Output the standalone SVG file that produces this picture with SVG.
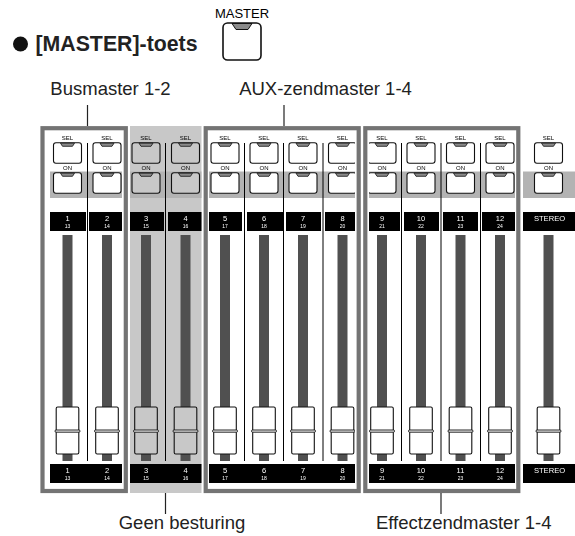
<svg xmlns="http://www.w3.org/2000/svg" width="575" height="536" viewBox="0 0 575 536">
<style>
text{font-family:"Liberation Sans",Arial,sans-serif;text-anchor:middle}
.cap{font-size:18.5px;fill:#222}
.sm{font-size:6px;fill:#000;filter:url(#soft)}
.n{font-size:7.5px;fill:#fff;filter:url(#soft)}
.s{font-size:5px;fill:#fff;filter:url(#soft)}
.st{font-size:7.6px;fill:#fff;filter:url(#soft)}
.w{fill:#fff}
.g{fill:#c8c8c8}
.band{fill:#b3b3b3}
.blk{fill:#000}
.frame{fill:none;stroke:#747474;stroke-width:4.2}
.div{stroke:#000;stroke-width:1}
.lead{stroke:#222;stroke-width:1.2;fill:none}
</style>
<defs>
<filter id="soft" x="-30%" y="-30%" width="160%" height="160%"><feGaussianBlur stdDeviation="0.15"/></filter>
<g id="btn">
<rect x="-14" y="0" width="28" height="20.5" rx="2.5" stroke="#111" stroke-width="1.1"/>
<path d="M-7,0.5H7L5,3.6H-5Z" fill="#8a8a8a" stroke="#111" stroke-width="0.8"/>
</g>
<g id="strip">
<use href="#btn" y="142.7"/>
<use href="#btn" y="172.7"/>
<rect x="-5" y="235" width="10" height="226" fill="#505050"/>
<rect x="-11.3" y="407" width="22.6" height="47" rx="1.5" stroke="#111" stroke-width="1.1"/>
<rect x="-12.5" y="430" width="25" height="2.2" rx="1" fill="#eee" stroke="#111" stroke-width="0.9"/>
</g>
</defs>

<g id="header">
<circle cx="20.5" cy="44" r="7.5" fill="#111"/>
<text x="116.5" y="51" style="font-size:21.3px;font-weight:bold;fill:#222">[MASTER]-toets</text>
<text x="242" y="18" style="font-size:13px;fill:#000">MASTER</text>
<rect x="223" y="23" width="38" height="37" rx="4.5" fill="#fff" stroke="#111" stroke-width="1.6"/>
<path d="M232,23.5H252L248,29.5H236Z" fill="#8a8a8a" stroke="#111" stroke-width="1"/>
</g>

<g id="backgrounds">
<rect class="g" x="130" y="126" width="71.5" height="367"/>
<rect class="band" x="50" y="171.500" width="72" height="26.500"/>
<rect class="band" x="130" y="171.500" width="71.500" height="26.500"/>
<rect class="band" x="209" y="171.500" width="146" height="26.500"/>
<rect class="band" x="369" y="171.500" width="146" height="26.500"/>
<rect class="band" x="523" y="171.500" width="52" height="26.500"/>
</g>

<g id="labels-top">
<rect class="blk" x="50" y="212" width="36" height="19"/>
<rect class="blk" x="89" y="212" width="33" height="19"/>
<rect class="blk" x="130" y="212" width="34" height="19"/>
<rect class="blk" x="168" y="212" width="33.500" height="19"/>
<rect class="blk" x="209" y="212" width="33" height="19"/>
<rect class="blk" x="247" y="212" width="36" height="19"/>
<rect class="blk" x="286" y="212" width="35" height="19"/>
<rect class="blk" x="325" y="212" width="30" height="19"/>
<rect class="blk" x="369" y="212" width="31" height="19"/>
<rect class="blk" x="404" y="212" width="35" height="19"/>
<rect class="blk" x="443" y="212" width="35" height="19"/>
<rect class="blk" x="482" y="212" width="33" height="19"/>
<rect class="blk" x="523" y="212" width="52" height="19"/>
</g>
<g id="labels-bottom">
<rect class="blk" x="50" y="464" width="72" height="19"/>
<rect class="blk" x="130" y="464" width="71.500" height="19"/>
<rect class="blk" x="209" y="464" width="146" height="19"/>
<rect class="blk" x="369" y="464" width="146" height="19"/>
<rect class="blk" x="523" y="464" width="52" height="19"/>
</g>

<g id="ch1"><use href="#strip" x="67.5" class="w"/><text class="sm" x="67.5" y="140">SEL</text><text class="sm" x="67.500" y="170">ON</text><text class="n" x="67.500" y="221">1</text><text class="s" x="67.500" y="228">13</text><text class="n" x="67.500" y="473">1</text><text class="s" x="67.500" y="480">13</text></g>
<g id="ch2"><use href="#strip" x="107" class="w"/><text class="sm" x="107" y="140">SEL</text><text class="sm" x="107" y="170">ON</text><text class="n" x="107" y="221">2</text><text class="s" x="107" y="228">14</text><text class="n" x="107" y="473">2</text><text class="s" x="107" y="480">14</text></g>
<g id="ch3"><use href="#strip" x="146" class="g"/><text class="sm" x="146" y="140">SEL</text><text class="sm" x="146" y="170">ON</text><text class="n" x="146" y="221">3</text><text class="s" x="146" y="228">15</text><text class="n" x="146" y="473">3</text><text class="s" x="146" y="480">15</text></g>
<g id="ch4"><use href="#strip" x="185.500" class="g"/><text class="sm" x="185.500" y="140">SEL</text><text class="sm" x="185.500" y="170">ON</text><text class="n" x="185.500" y="221">4</text><text class="s" x="185.500" y="228">16</text><text class="n" x="185.500" y="473">4</text><text class="s" x="185.500" y="480">16</text></g>
<g id="ch5"><use href="#strip" x="225" class="w"/><text class="sm" x="225" y="140">SEL</text><text class="sm" x="225" y="170">ON</text><text class="n" x="225" y="221">5</text><text class="s" x="225" y="228">17</text><text class="n" x="225" y="473">5</text><text class="s" x="225" y="480">17</text></g>
<g id="ch6"><use href="#strip" x="264" class="w"/><text class="sm" x="264" y="140">SEL</text><text class="sm" x="264" y="170">ON</text><text class="n" x="264" y="221">6</text><text class="s" x="264" y="228">18</text><text class="n" x="264" y="473">6</text><text class="s" x="264" y="480">18</text></g>
<g id="ch7"><use href="#strip" x="303" class="w"/><text class="sm" x="303" y="140">SEL</text><text class="sm" x="303" y="170">ON</text><text class="n" x="303" y="221">7</text><text class="s" x="303" y="228">19</text><text class="n" x="303" y="473">7</text><text class="s" x="303" y="480">19</text></g>
<g id="ch8"><use href="#strip" x="342.500" class="w"/><text class="sm" x="342.500" y="140">SEL</text><text class="sm" x="342.500" y="170">ON</text><text class="n" x="342.500" y="221">8</text><text class="s" x="342.500" y="228">20</text><text class="n" x="342.500" y="473">8</text><text class="s" x="342.500" y="480">20</text></g>
<g id="ch9"><use href="#strip" x="382" class="w"/><text class="sm" x="382" y="140">SEL</text><text class="sm" x="382" y="170">ON</text><text class="n" x="382" y="221">9</text><text class="s" x="382" y="228">21</text><text class="n" x="382" y="473">9</text><text class="s" x="382" y="480">21</text></g>
<g id="ch10"><use href="#strip" x="421" class="w"/><text class="sm" x="421" y="140">SEL</text><text class="sm" x="421" y="170">ON</text><text class="n" x="421" y="221">10</text><text class="s" x="421" y="228">22</text><text class="n" x="421" y="473">10</text><text class="s" x="421" y="480">22</text></g>
<g id="ch11"><use href="#strip" x="460.500" class="w"/><text class="sm" x="460.500" y="140">SEL</text><text class="sm" x="460.500" y="170">ON</text><text class="n" x="460.500" y="221">11</text><text class="s" x="460.500" y="228">23</text><text class="n" x="460.500" y="473">11</text><text class="s" x="460.500" y="480">23</text></g>
<g id="ch12"><use href="#strip" x="500" class="w"/><text class="sm" x="500" y="140">SEL</text><text class="sm" x="500" y="170">ON</text><text class="n" x="500" y="221">12</text><text class="s" x="500" y="228">24</text><text class="n" x="500" y="473">12</text><text class="s" x="500" y="480">24</text></g>
<g id="stereo"><use href="#strip" x="548.500" class="w"/><text class="sm" x="548.500" y="140">SEL</text><text class="sm" x="548.500" y="170">ON</text><text class="st" x="549.500" y="221">STEREO</text><text class="st" x="549.500" y="473">STEREO</text></g>

<g id="dividers">
<line class="div" x1="87.500" y1="143" x2="87.500" y2="461"/>
<line class="div" x1="165.500" y1="143" x2="165.500" y2="461"/>
<line class="div" x1="244.500" y1="143" x2="244.500" y2="461"/>
<line class="div" x1="283.500" y1="143" x2="283.500" y2="461"/>
<line class="div" x1="323" y1="143" x2="323" y2="461"/>
<line class="div" x1="401.500" y1="143" x2="401.500" y2="461"/>
<line class="div" x1="441" y1="143" x2="441" y2="461"/>
<line class="div" x1="480.500" y1="143" x2="480.500" y2="461"/>
</g>

<g id="frames">
<rect class="w" x="355" y="130" width="3" height="359"/>
<rect class="w" x="366" y="130" width="3" height="359"/>
<rect class="frame" x="42.500" y="128.200" width="83.300" height="362.800"/>
<rect class="frame" x="205.700" y="128.200" width="153" height="362.800"/>
<rect class="frame" x="365.300" y="128.200" width="153" height="362.800"/>
</g>

<g id="connectors">
<line class="lead" x1="87.500" y1="105" x2="87.500" y2="126"/>
<line class="lead" x1="284" y1="105" x2="284" y2="126"/>
<line class="lead" x1="165.500" y1="493" x2="165.500" y2="514"/>
<line class="lead" x1="441" y1="493" x2="441" y2="514"/>
</g>

<g id="captions">
<text class="cap" x="110.500" y="95">Busmaster 1-2</text>
<text class="cap" x="325.500" y="95">AUX-zendmaster 1-4</text>
<text class="cap" x="182" y="529">Geen besturing</text>
<text class="cap" x="463.700" y="529">Effectzendmaster 1-4</text>
</g>
</svg>
